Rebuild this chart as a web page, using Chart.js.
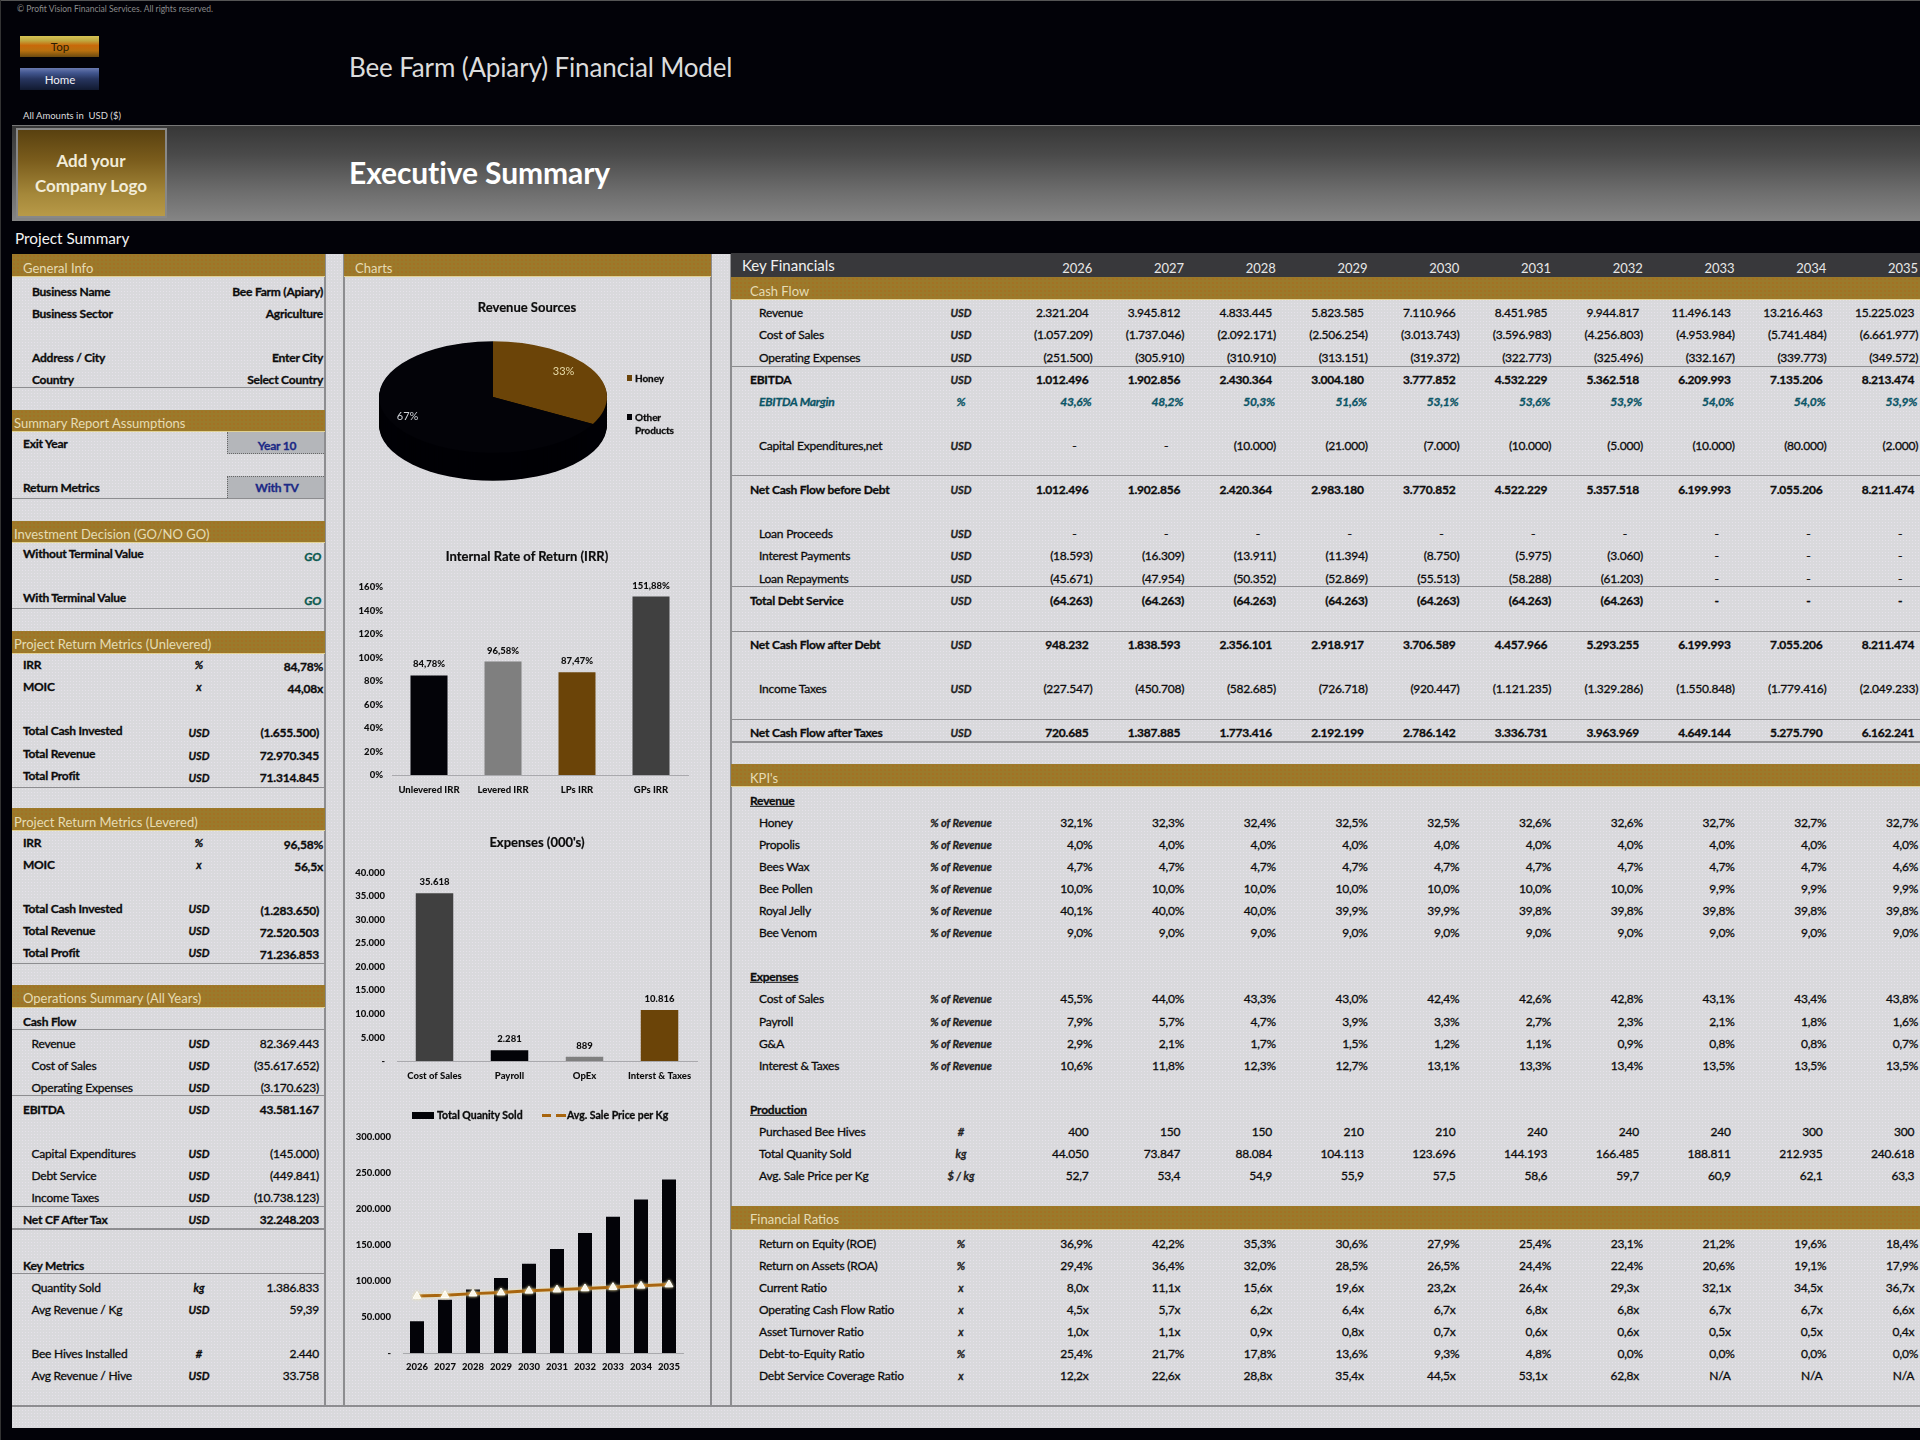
<!DOCTYPE html>
<html>
<head>
<meta charset="utf-8">
<title>Bee Farm (Apiary) Financial Model</title>
<script src="https://cdn.jsdelivr.net/npm/chart.js@4"></script>
<style>
  html, body { margin: 0; padding: 0; background: #020208; }
  #page { position: relative; width: 1920px; height: 1440px; overflow: hidden; background: #020208; font-family: Lato, "Open Sans", sans-serif; color: #0c0c0c; }
  .box { position: absolute; }
  .t { position: absolute; white-space: nowrap; transform: translateY(-50%); font-size: 12px; letter-spacing: -0.22px; line-height: 1.2; -webkit-text-stroke: .3px currentColor; }
  .b { font-weight: 700; }
  .i { font-style: italic; }
  .gold { background-color: #9b7a2b; background-image: radial-gradient(rgba(170,105,30,.5) 1px, transparent 1.2px); background-size: 4px 4px; border-bottom: 1px solid #e0d193; box-sizing: border-box; }
  .sheet { background-color: #d9d9dc; background-image: radial-gradient(rgba(238,232,244,.6) .6px, transparent .9px); background-size: 3px 3px; }
  .line { background: #8d8d90; }
  .bar-t { color: #e6dcb4; font-size: 13px; letter-spacing: 0; -webkit-text-stroke: 0; }
  .light { -webkit-text-stroke: 0; letter-spacing: 0; }
  canvas { position: absolute; }
</style>
</head>
<body>
<div id="page"></div>
<script>
// ===== DATA =====
var years = ['2026','2027','2028','2029','2030','2031','2032','2033','2034','2035'];

var revenue       = [2321204,3945812,4833445,5823585,7110966,8451985,9944817,11496143,13216463,15225023];
var costOfSales   = [-1057209,-1737046,-2092171,-2506254,-3013743,-3596983,-4256803,-4953984,-5741484,-6661977];
var opExpenses    = [-251500,-305910,-310910,-313151,-319372,-322773,-325496,-332167,-339773,-349572];
var ebitda        = [1012496,1902856,2430364,3004180,3777852,4532229,5362518,6209993,7135206,8213474];
var ebitdaMargin  = [43.6,48.2,50.3,51.6,53.1,53.6,53.9,54.0,54.0,53.9];
var capex         = [0,0,-10000,-21000,-7000,-10000,-5000,-10000,-80000,-2000];
var ncfBeforeDebt = [1012496,1902856,2420364,2983180,3770852,4522229,5357518,6199993,7055206,8211474];
var loanProceeds  = [0,0,0,0,0,0,0,0,0,0];
var interestPaid  = [-18593,-16309,-13911,-11394,-8750,-5975,-3060,0,0,0];
var loanRepaid    = [-45671,-47954,-50352,-52869,-55513,-58288,-61203,0,0,0];
var debtService   = [-64263,-64263,-64263,-64263,-64263,-64263,-64263,0,0,0];
var ncfAfterDebt  = [948232,1838593,2356101,2918917,3706589,4457966,5293255,6199993,7055206,8211474];
var incomeTaxes   = [-227547,-450708,-582685,-726718,-920447,-1121235,-1329286,-1550848,-1779416,-2049233];
var ncfAfterTaxes = [720685,1387885,1773416,2192199,2786142,3336731,3963969,4649144,5275790,6162241];

var honeyPct   = [32.1,32.3,32.4,32.5,32.5,32.6,32.6,32.7,32.7,32.7];
var propolisPct= [4.0,4.0,4.0,4.0,4.0,4.0,4.0,4.0,4.0,4.0];
var waxPct     = [4.7,4.7,4.7,4.7,4.7,4.7,4.7,4.7,4.7,4.6];
var pollenPct  = [10.0,10.0,10.0,10.0,10.0,10.0,10.0,9.9,9.9,9.9];
var jellyPct   = [40.1,40.0,40.0,39.9,39.9,39.8,39.8,39.8,39.8,39.8];
var venomPct   = [9.0,9.0,9.0,9.0,9.0,9.0,9.0,9.0,9.0,9.0];
var cosPct     = [45.5,44.0,43.3,43.0,42.4,42.6,42.8,43.1,43.4,43.8];
var payrollPct = [7.9,5.7,4.7,3.9,3.3,2.7,2.3,2.1,1.8,1.6];
var gaPct      = [2.9,2.1,1.7,1.5,1.2,1.1,0.9,0.8,0.8,0.7];
var intTaxPct  = [10.6,11.8,12.3,12.7,13.1,13.3,13.4,13.5,13.5,13.5];
var hivesBought= [400,150,150,210,210,240,240,240,300,300];
var qtySold    = [44050,73847,88084,104113,123696,144193,166485,188811,212935,240618];
var salePrice  = [52.7,53.4,54.9,55.9,57.5,58.6,59.7,60.9,62.1,63.3];
var roe        = [36.9,42.2,35.3,30.6,27.9,25.4,23.1,21.2,19.6,18.4];
var roa        = [29.4,36.4,32.0,28.5,26.5,24.4,22.4,20.6,19.1,17.9];
var currentR   = [8.0,11.1,15.6,19.6,23.2,26.4,29.3,32.1,34.5,36.7];
var ocfR       = [4.5,5.7,6.2,6.4,6.7,6.8,6.8,6.7,6.7,6.6];
var turnoverR  = [1.0,1.1,0.9,0.8,0.7,0.6,0.6,0.5,0.5,0.4];
var debtEquity = [25.4,21.7,17.8,13.6,9.3,4.8,0.0,0.0,0.0,0.0];
var dscr       = [12.2,22.6,28.8,35.4,44.5,53.1,62.8,null,null,null];

var pieLabels = ['Honey','Other Products'];
var pieValues = [33,67];
var irrLabels = ['Unlevered IRR','Levered IRR','LPs IRR','GPs IRR'];
var irrValues = [84.78,96.58,87.47,151.88];
var expLabels = ['Cost of Sales','Payroll','OpEx','Interst & Taxes'];
var expValues = [35618,2281,889,10816];

// ===== HELPERS =====
var page = document.getElementById('page');
function box(x, y, w, h, css, cls) {
  var d = document.createElement('div');
  d.className = 'box ' + (cls || '');
  d.style.cssText = 'left:'+x+'px;top:'+y+'px;width:'+w+'px;height:'+h+'px;' + (css || '');
  page.appendChild(d);
  return d;
}
function txt(x, y, s, cls, css, align) {
  var d = document.createElement('div');
  d.className = 't ' + (cls || '');
  d.textContent = s;
  var pos = align === 'r' ? 'right:'+(1920-x)+'px;' : 'left:'+x+'px;';
  var tr = align === 'c' ? 'transform:translate(-50%,-50%);' : '';
  d.style.cssText = pos + 'top:'+y+'px;' + tr + (css || '');
  page.appendChild(d);
  return d;
}
function dots(n) { return String(n).replace(/\B(?=(\d{3})+(?!\d))/g, '.'); }
function dec(n, p) { return n.toFixed(p).replace('.', ','); }
function money(n) { return n === 0 ? '-' : n < 0 ? '(' + dots(-n) + ')' : dots(n); }

// ===== FRAME =====
box(0, 0, 1920, 1, 'background:#555');
box(12, 254, 1908, 1174, '', 'sheet');
box(0, 0, 1, 1440, 'background:#333');

txt(17, 8.5, '© Profit Vision Financial Services. All rights reserved.', 'light', 'font-size:8.5px;color:#8a8a8a');
box(20, 36, 79, 21, 'background:linear-gradient(#d6c455 0,#bfa840 22%,#c8690a 45%,#b8700f 70%,#6b4a10 100%);');
txt(60, 47, 'Top', 'light', 'font-size:11.5px;color:#2a1c05', 'c');
box(20, 68, 79, 22, 'background:linear-gradient(#6a7ab0 0,#42568f 22%,#27355f 50%,#111a30 100%);');
txt(60, 80, 'Home', 'light', 'font-size:11.5px;color:#f0f0f5', 'c');
txt(349, 68, 'Bee Farm (Apiary) Financial Model', 'light', 'font-size:26px;color:#dcdcdc;letter-spacing:-0.15px');
txt(23, 116, 'All Amounts in  USD ($)', 'light', 'font-size:9.5px;color:#dcdcdc;white-space:pre');

box(12, 125, 1908, 96, 'background:linear-gradient(#373737 0,#4a4a4a 30%,#6e6e6e 70%,#858585 100%);border-top:1px solid #777;box-sizing:border-box');
box(16, 128, 151, 90, 'background:linear-gradient(#594110 0,#7a5c1c 35%,#a5883a 75%,#b89a48 100%);border:2px solid #888;box-sizing:border-box');
txt(91, 161, 'Add your', 'b light', 'font-size:17px;color:#f2ecd8', 'c');
txt(91, 186, 'Company Logo', 'b light', 'font-size:17px;color:#f2ecd8', 'c');
txt(349, 172, 'Executive Summary', 'b light', 'font-size:30px;color:#fff;letter-spacing:-0.1px');
txt(15, 238, 'Project Summary', 'light', 'font-size:15.3px;color:#f2f2f2');

// panel separators
box(324, 254, 2, 1152, '', 'line');
box(343, 254, 2, 1152, '', 'line');
box(710, 254, 2, 1152, '', 'line');
box(730, 254, 2, 1152, '', 'line');
box(12, 1405, 1908, 2, '', 'line');

// ===== LEFT PANEL =====
function goldBar(x, y, w, h, label, tx, ty) {
  box(x, y, w, h, '', 'gold');
  txt(tx, ty, label, 'bar-t');
}
goldBar(12, 254, 313, 23, 'General Info', 23, 269);
goldBar(12, 410, 313, 22, 'Summary  Report Assumptions', 14, 424);
goldBar(12, 521, 313, 22, 'Investment Decision (GO/NO GO)', 14, 534.5);
goldBar(12, 631, 313, 23, 'Project Return Metrics (Unlevered)', 14, 645);
goldBar(12, 808, 313, 23, 'Project Return Metrics (Levered)', 14, 823);
goldBar(12, 985, 313, 23, 'Operations Summary (All Years)', 23, 999);
goldBar(344, 254, 367, 23, 'Charts', 355, 269);

[387, 498, 608, 787, 963, 1029, 1095, 1206, 1273].forEach(function(y) { box(12, y, 312, 1, '', 'line'); });
box(12, 1228, 312, 2, '', 'line');

function infoRow(y, label, value) {
  txt(32, y, label, 'b');
  txt(323, y, value, 'b', '', 'r');
}
infoRow(291.5, 'Business Name', 'Bee Farm (Apiary)');
infoRow(313.5, 'Business Sector', 'Agriculture');
infoRow(357.5, 'Address / City', 'Enter City');
infoRow(379.5, 'Country', 'Select Country');

box(227, 432, 97, 22, 'background:#b4b6ba;border-left:1px dotted #666;border-bottom:1px dotted #666;box-sizing:border-box');
box(227, 476, 97, 22, 'background:#b4b6ba;border-left:1px dotted #666;border-top:1px dotted #666;box-sizing:border-box');
txt(23, 443.7, 'Exit Year', 'b');
txt(277, 446, 'Year 10', 'b', 'color:#1c2a86', 'c');
txt(23, 488, 'Return Metrics', 'b');
txt(277, 488, 'With TV', 'b', 'color:#1c2a86', 'c');
txt(23, 554, 'Without Terminal Value', 'b');
txt(321, 556.5, 'GO', 'b i', 'color:#0c5a50', 'r');
txt(23, 598, 'With Terminal Value', 'b');
txt(321, 600.5, 'GO', 'b i', 'color:#0c5a50', 'r');

function metricRow(yL, yV, label, unit, value, right, cls, indent, yU) {
  txt(indent ? 31.5 : 23, yL, label, cls);
  txt(199, yU || yV, unit, 'b i', 'font-size:11px;letter-spacing:0', 'c');
  txt(right, yV, value, cls, '', 'r');
}
metricRow(665, 667, 'IRR', '%', '84,78%', 323, 'b', false, 665);
metricRow(687, 689, 'MOIC', 'x', '44,08x', 323, 'b', false, 687);
metricRow(731, 733, 'Total Cash Invested', 'USD', money(-1655500), 319, 'b');
metricRow(754, 756, 'Total Revenue', 'USD', money(72970345), 319, 'b');
metricRow(776, 778, 'Total Profit', 'USD', money(71314845), 319, 'b');
metricRow(842.7, 844.7, 'IRR', '%', '96,58%', 323, 'b', false, 842.7);
metricRow(865, 867, 'MOIC', 'x', '56,5x', 323, 'b', false, 865);
metricRow(909, 911, 'Total Cash Invested', 'USD', money(-1283650), 319, 'b', false, 909);
metricRow(931, 933, 'Total Revenue', 'USD', money(72520503), 319, 'b', false, 931);
metricRow(953, 955, 'Total Profit', 'USD', money(71236853), 319, 'b', false, 953);

txt(23, 1021.5, 'Cash Flow', 'b');
metricRow(1043.7, 1043.7, 'Revenue', 'USD', money(82369443), 319, '', true);
metricRow(1066, 1066, 'Cost of Sales', 'USD', money(-35617652), 319, '', true);
metricRow(1088, 1088, 'Operating Expenses', 'USD', money(-3170623), 319, '', true);
metricRow(1110, 1110, 'EBITDA', 'USD', money(43581167), 319, 'b');
metricRow(1154, 1154, 'Capital Expenditures', 'USD', money(-145000), 319, '', true);
metricRow(1176, 1176, 'Debt Service', 'USD', money(-449841), 319, '', true);
metricRow(1198, 1198, 'Income Taxes', 'USD', money(-10738123), 319, '', true);
metricRow(1220, 1220, 'Net CF After Tax', 'USD', money(32248203), 319, 'b');
txt(23, 1265.5, 'Key Metrics', 'b');
metricRow(1288, 1288, 'Quantity Sold', 'kg', money(1386833), 319, '', true);
metricRow(1310, 1310, 'Avg Revenue / Kg', 'USD', '59,39', 319, '', true);
metricRow(1354, 1354, 'Bee Hives Installed', '#', money(2440), 319, '', true);
metricRow(1376, 1376, 'Avg Revenue / Hive', 'USD', money(33758), 319, '', true);

// ===== RIGHT PANEL =====
var colRight = function(c) { return 1092.4 + c * 91.75; };
function rowY(i) { return 313.3 + 22.1 * i + (i >= 22 ? 1 : 0) + (i >= 42 ? 1 : 0); }

box(731, 253, 1189, 24, 'background:#38383b');
txt(742, 265, 'Key Financials', 'light', 'font-size:15px;color:#f0f0f0');
years.forEach(function(y, c) { txt(colRight(c), 269, y, 'light', 'font-size:13px;color:#e8e8e8', 'r'); });
goldBar(731, 277, 1189, 23, 'Cash Flow', 750, 292);
goldBar(731, 764, 1189, 23, "KPI's", 750, 778.5);
goldBar(731, 1206, 1189, 24, 'Financial Ratios', 750, 1220);

[365.7, 475, 586, 630.7, 719].forEach(function(y) { box(731, y, 1189, 1, '', 'line'); });
box(731, 741, 1189, 2, '', 'line');

function numCol(c, row, s, cls, css, inset) { txt(colRight(c) - inset, rowY(row), s, cls, css, 'r'); }
function moneyRow(i, label, values, bold) {
  var cls = bold ? 'b' : '';
  txt(bold ? 750 : 759, rowY(i), label, cls);
  txt(961, rowY(i), 'USD', 'b i', 'font-size:11px;letter-spacing:0;color:#222', 'c');
  values.forEach(function(v, c) {
    numCol(c, i, money(v), cls, '', v === 0 ? 16 : v < 0 ? 0 : 4);
  });
}
moneyRow(0, 'Revenue', revenue);
moneyRow(1, 'Cost of Sales', costOfSales);
moneyRow(2, 'Operating Expenses', opExpenses);
moneyRow(3, 'EBITDA', ebitda, true);
txt(759, rowY(4), 'EBITDA Margin', 'b i', 'color:#0b5566');
txt(961, rowY(4), '%', 'b i', 'color:#0b5566', 'c');
ebitdaMargin.forEach(function(v, c) { numCol(c, 4, dec(v, 1) + '%', 'b i', 'color:#0b5566', 1); });
moneyRow(6, 'Capital Expenditures,net', capex);
moneyRow(8, 'Net Cash Flow before Debt', ncfBeforeDebt, true);
moneyRow(10, 'Loan Proceeds', loanProceeds);
moneyRow(11, 'Interest Payments', interestPaid);
moneyRow(12, 'Loan Repayments', loanRepaid);
moneyRow(13, 'Total Debt Service', debtService, true);
moneyRow(15, 'Net Cash Flow after Debt', ncfAfterDebt, true);
moneyRow(17, 'Income Taxes', incomeTaxes);
moneyRow(19, 'Net Cash Flow after Taxes', ncfAfterTaxes, true);

function kpiRow(i, label, unit, values, fmt, inset) {
  txt(759, rowY(i), label);
  txt(961, rowY(i), unit, 'b i', 'font-size:11px;letter-spacing:0;color:#222', 'c');
  values.forEach(function(v, c) { numCol(c, i, fmt(v), '', '', inset); });
}
function pct(v) { return dec(v, 1) + '%'; }
function times(v) { return v === null ? 'N/A' : dec(v, 1) + 'x'; }
function one(v) { return dec(v, 1); }
var ofRev = '% of Revenue';

txt(750, rowY(22), 'Revenue', 'b', 'text-decoration:underline');
kpiRow(23, 'Honey', ofRev, honeyPct, pct, 0);
kpiRow(24, 'Propolis', ofRev, propolisPct, pct, 0);
kpiRow(25, 'Bees Wax', ofRev, waxPct, pct, 0);
kpiRow(26, 'Bee Pollen', ofRev, pollenPct, pct, 0);
kpiRow(27, 'Royal Jelly', ofRev, jellyPct, pct, 0);
kpiRow(28, 'Bee Venom', ofRev, venomPct, pct, 0);
txt(750, rowY(30), 'Expenses', 'b', 'text-decoration:underline');
kpiRow(31, 'Cost of Sales', ofRev, cosPct, pct, 0);
kpiRow(32, 'Payroll', ofRev, payrollPct, pct, 0);
kpiRow(33, 'G&A', ofRev, gaPct, pct, 0);
kpiRow(34, 'Interest & Taxes', ofRev, intTaxPct, pct, 0);
txt(750, rowY(36), 'Production', 'b', 'text-decoration:underline');
kpiRow(37, 'Purchased Bee Hives', '#', hivesBought, dots, 4);
kpiRow(38, 'Total Quanity Sold', 'kg', qtySold, dots, 4);
kpiRow(39, 'Avg. Sale Price per Kg', '$ / kg', salePrice, one, 4);
kpiRow(42, 'Return on Equity (ROE)', '%', roe, pct, 0);
kpiRow(43, 'Return on Assets (ROA)', '%', roa, pct, 0);
kpiRow(44, 'Current Ratio', 'x', currentR, times, 4);
kpiRow(45, 'Operating Cash Flow Ratio', 'x', ocfR, times, 4);
kpiRow(46, 'Asset Turnover Ratio', 'x', turnoverR, times, 4);
kpiRow(47, 'Debt-to-Equity Ratio', '%', debtEquity, pct, 0);
kpiRow(48, 'Debt Service Coverage Ratio', 'x', dscr, times, 4);

// ===== CHARTS =====
Chart.defaults.font.family = 'Lato, "Open Sans", sans-serif';
Chart.defaults.animation = false;
Chart.defaults.responsive = false;
Chart.defaults.color = '#0c0c0c';

function addCanvas(x, y, w, h) {
  var c = document.createElement('canvas');
  c.width = w; c.height = h;
  c.style.left = x + 'px'; c.style.top = y + 'px';
  c.style.width = w + 'px'; c.style.height = h + 'px';
  page.appendChild(c);
  return c.getContext('2d');
}
var tickFont = { size: 9.5, weight: '900' };
var baseLine = '#a9a9ad';
var titleCss = 'font-size:13px;-webkit-text-stroke:.2px currentColor;letter-spacing:0';

// draws value labels above the bars of dataset 0
var barLabels = {
  id: 'barLabels',
  afterDatasetsDraw: function(chart, args, opts) {
    if (!opts.format) return;
    var ctx = chart.ctx;
    ctx.save();
    ctx.font = '900 9.5px Lato';
    ctx.fillStyle = '#0c0c0c';
    ctx.textAlign = 'center';
    ctx.textBaseline = 'middle';
    chart.getDatasetMeta(0).data.forEach(function(el, i) {
      ctx.fillText(opts.format(chart.data.datasets[0].data[i]), el.x, el.y - 11);
    });
    ctx.restore();
  }
};

function fixedAxes(yWidth, xHeight) {
  return {
    x: { grid: { display: false, drawTicks: false }, border: { color: baseLine }, ticks: { font: tickFont, padding: 9, maxRotation: 0, autoSkip: false },
         afterFit: function(s) { s.height = xHeight; } },
    y: { grid: { display: false, drawTicks: false }, border: { display: false }, ticks: { font: tickFont, padding: 9 },
         afterFit: function(s) { s.width = yWidth; } }
  };
}

// ① REVENUE SOURCES (tilted pie)
var pieTilt = 0.49, pieCenterY = 97, pieDepth = 28;
var tiltPie = {
  id: 'tiltPie',
  beforeDatasetDraw: function(chart) {
    var ctx = chart.ctx, el = chart.getDatasetMeta(0).data[0];
    ctx.save();
    ctx.translate(el.x, pieCenterY);
    ctx.scale(1, pieTilt);
    ctx.translate(-el.x, -el.y);
    for (var d = pieDepth; d > 0; d--) {
      ctx.beginPath();
      ctx.arc(el.x, el.y + d / pieTilt, el.outerRadius, 0, Math.PI * 2);
      ctx.fillStyle = '#000005';
      ctx.fill();
    }
  },
  afterDatasetDraw: function(chart) { chart.ctx.restore(); },
  afterDatasetsDraw: function(chart) {
    var ctx = chart.ctx, meta = chart.getDatasetMeta(0), colors = ['#e6d9a6', '#cfd3d8'], reach = [0.72, 0.87];
    ctx.save();
    ctx.font = '11px Lato';
    ctx.textAlign = 'center';
    ctx.textBaseline = 'middle';
    meta.data.forEach(function(el, i) {
      var mid = (el.startAngle + el.endAngle) / 2;
      ctx.fillStyle = colors[i];
      ctx.fillText(pieValues[i] + '%', el.x + Math.cos(mid) * el.outerRadius * reach[i],
        pieCenterY - 5 + Math.sin(mid) * el.outerRadius * reach[i] * pieTilt);
    });
    ctx.restore();
  }
};
new Chart(addCanvas(344, 300, 367, 248), {
  type: 'pie',
  data: { labels: pieLabels, datasets: [{ data: pieValues, backgroundColor: ['#6b4408', '#030308'], borderWidth: 0 }] },
  options: {
    layout: { padding: { top: 20, left: 35, right: 104 } },
    plugins: { legend: { display: false }, tooltip: { enabled: false } }
  },
  plugins: [tiltPie]
});
txt(527, 307.5, 'Revenue Sources', 'b', titleCss, 'c');
box(627, 375, 5, 6, 'background:#6b4408');
txt(635, 378, pieLabels[0], 'b', 'font-size:10px;letter-spacing:-.1px');
box(627, 414, 5, 6, 'background:#030308');
txt(635, 417, 'Other', 'b', 'font-size:10px;letter-spacing:-.1px');
txt(635, 430, 'Products', 'b', 'font-size:10px;letter-spacing:-.1px');

// ② IRR
var irrScales = fixedAxes(48, 25);
irrScales.y.min = 0; irrScales.y.max = 160;
irrScales.y.ticks.stepSize = 20;
irrScales.y.ticks.callback = function(v) { return v + '%'; };
new Chart(addCanvas(344, 549.5, 367, 250), {
  type: 'bar',
  data: { labels: irrLabels, datasets: [{ data: irrValues, backgroundColor: ['#030308', '#7f7f7f', '#6b4408', '#404040'], barPercentage: 0.5, categoryPercentage: 1 }] },
  options: {
    layout: { padding: { top: 37, right: 23 } },
    scales: irrScales,
    plugins: {
      legend: { display: false }, tooltip: { enabled: false },
      barLabels: { format: function(v) { return dec(v, 2) + '%'; } }
    }
  },
  plugins: [barLabels]
});
txt(527, 557, 'Internal Rate of Return (IRR)', 'b', titleCss, 'c');

// ③ EXPENSES
var expScales = fixedAxes(53, 25);
expScales.y.min = 0; expScales.y.max = 40000;
expScales.y.ticks.stepSize = 5000;
expScales.y.ticks.padding = 12;
expScales.y.ticks.callback = function(v) { return v === 0 ? '-' : dots(v); };
new Chart(addCanvas(344, 835.5, 367, 250), {
  type: 'bar',
  data: { labels: expLabels, datasets: [{ data: expValues, backgroundColor: ['#404040', '#030308', '#7f7f7f', '#6b4408'], barPercentage: 0.5, categoryPercentage: 1 }] },
  options: {
    layout: { padding: { top: 36.5, right: 14 } },
    scales: expScales,
    plugins: {
      legend: { display: false }, tooltip: { enabled: false },
      barLabels: { format: dots }
    }
  },
  plugins: [barLabels]
});
txt(537, 843, "Expenses (000's)", 'b', titleCss, 'c');

// ④ QUANTITY / PRICE
var lineGlow = {
  id: 'lineGlow',
  beforeDatasetDraw: function(chart, args) {
    if (args.index !== 1) return;
    chart.ctx.save();
    chart.ctx.shadowColor = '#efe2a8';
    chart.ctx.shadowBlur = 3;
  },
  afterDatasetDraw: function(chart, args) {
    if (args.index === 1) chart.ctx.restore();
  }
};
var qtyScales = fixedAxes(59, 24);
qtyScales.y.min = 0; qtyScales.y.max = 300000;
qtyScales.y.ticks.stepSize = 50000;
qtyScales.y.ticks.padding = 12;
qtyScales.y.ticks.callback = function(v) { return v === 0 ? '-' : dots(v); };
qtyScales.x.ticks.padding = 8;
qtyScales.y1 = { display: false, min: 0, max: 200 };
new Chart(addCanvas(344, 1119, 367, 258), {
  data: {
    labels: years,
    datasets: [
      { type: 'bar', label: 'Total Quanity Sold', data: qtySold, backgroundColor: '#030308', barPercentage: 0.5, categoryPercentage: 1, yAxisID: 'y', order: 2 },
      { type: 'line', label: 'Avg. Sale Price per Kg', data: salePrice, borderColor: '#a8650f', borderWidth: 3, tension: 0, yAxisID: 'y1', order: 1,
        pointStyle: 'triangle', pointRadius: 4.5, pointBackgroundColor: '#fff', pointBorderColor: '#fff', pointBorderWidth: 1 }
    ]
  },
  options: {
    layout: { padding: { top: 0, right: 28 } },
    scales: qtyScales,
    plugins: { legend: { display: false }, tooltip: { enabled: false } }
  },
  plugins: [lineGlow]
});
box(412, 1112, 22, 7, 'background:#030308');
txt(437, 1115, 'Total Quanity Sold', 'b', 'font-size:10.5px;letter-spacing:0');
box(542, 1114, 9, 3, 'background:#a8650f');
box(556, 1114, 10, 3, 'background:#a8650f');
txt(567, 1115, 'Avg. Sale Price per Kg', 'b', 'font-size:10.5px;letter-spacing:0');
</script>
</body>
</html>
